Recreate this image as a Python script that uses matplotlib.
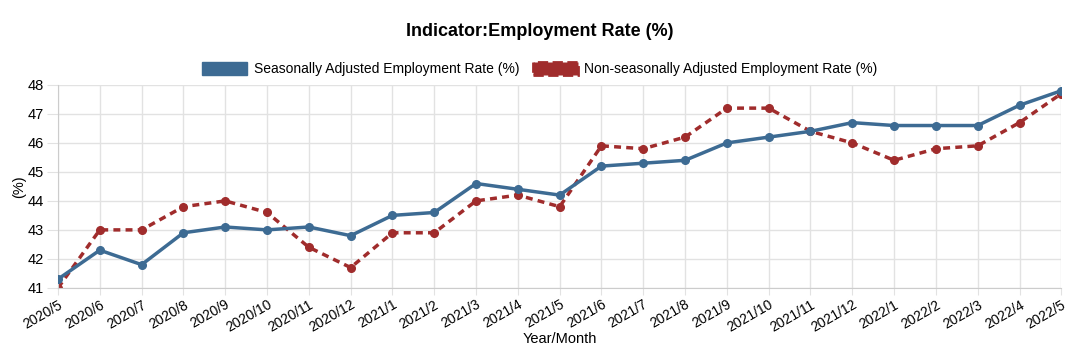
import matplotlib
matplotlib.use("Agg")
import matplotlib.pyplot as plt
from matplotlib.patches import Patch

plt.rcParams['font.family'] = ['Liberation Sans', 'DejaVu Sans']

months = ["2020/5", "2020/6", "2020/7", "2020/8", "2020/9", "2020/10", "2020/11", "2020/12",
          "2021/1", "2021/2", "2021/3", "2021/4", "2021/5", "2021/6", "2021/7", "2021/8",
          "2021/9", "2021/10", "2021/11", "2021/12", "2022/1", "2022/2", "2022/3", "2022/4", "2022/5"]
seasonal = [41.3, 42.3, 41.8, 42.9, 43.1, 43.0, 43.1, 42.8, 43.5, 43.6, 44.6, 44.4, 44.2,
            45.2, 45.3, 45.4, 46.0, 46.2, 46.4, 46.7, 46.6, 46.6, 46.6, 47.3, 47.8]
non_seasonal = [41.0, 43.0, 43.0, 43.8, 44.0, 43.6, 42.4, 41.7, 42.9, 42.9, 44.0, 44.2, 43.8,
                45.9, 45.8, 46.2, 47.2, 47.2, 46.4, 46.0, 45.4, 45.8, 45.9, 46.7, 47.7]

blue = "#3d6b93"
red = "#a02c2c"

fig = plt.figure(figsize=(10.8, 3.63), dpi=100)
ax = fig.add_axes([0.0537, 0.207, 0.929, 0.559])

x = list(range(len(months)))
ax.plot(x, seasonal, color=blue, lw=2.5, marker='o', ms=5.5, zorder=3)
ax.plot(x, non_seasonal, color=red, lw=2.5, ls=(0, (2, 1.5)), marker='o', ms=5.5, zorder=2)

ax.set_xlim(0, len(months) - 1)
ax.set_ylim(41, 48)
ax.set_yticks(range(41, 49))
ax.set_xticks(x)
ax.set_xticklabels(months, rotation=30, ha='right', rotation_mode='anchor', fontsize=10)
ax.tick_params(axis='y', labelsize=10.5, length=8, pad=2, color='#e2e2e2')
ax.tick_params(axis='x', length=5, pad=2, color='#e2e2e2')
ax.grid(True, color='#e2e2e2', lw=1)
ax.set_axisbelow(True)
for side in ['top', 'right']:
    ax.spines[side].set_visible(False)
for side in ['left', 'bottom']:
    ax.spines[side].set_color('#cccccc')

ax.set_ylabel("(%)", fontsize=10.5, labelpad=1)
ax.set_xlabel("Year/Month", fontsize=10.5, labelpad=-2)

fig.text(0.5, 0.912, "Indicator:Employment Rate (%)", ha='center', va='center',
         fontsize=13, fontweight='bold')

handles = [Patch(facecolor=blue, edgecolor=blue),
           Patch(facecolor=red, edgecolor=red, linestyle='--', lw=2)]
fig.legend(handles, ["Seasonally Adjusted Employment Rate (%)",
                     "Non-seasonally Adjusted Employment Rate (%)"],
           loc='center', bbox_to_anchor=(0.5, 0.81), ncol=2, frameon=False,
           fontsize=10, handlelength=3.2, handleheight=1.1, columnspacing=1.0, handletextpad=0.5)

fig.savefig("out.png", dpi=100)
